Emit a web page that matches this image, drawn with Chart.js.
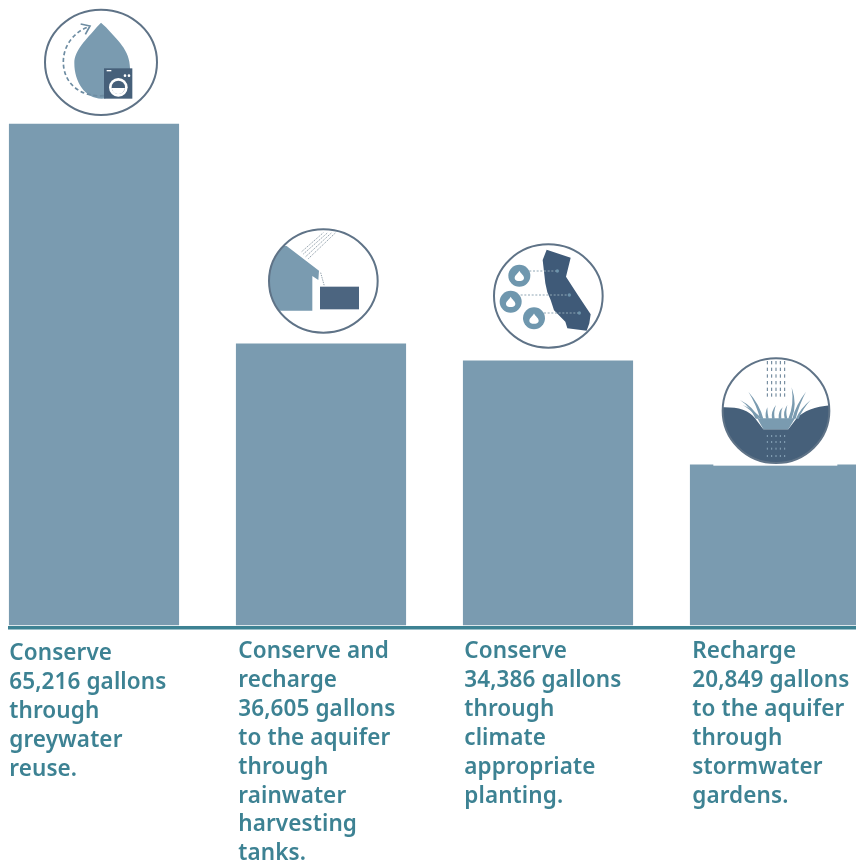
<!DOCTYPE html>
<html>
<head>
<meta charset="utf-8">
<title>Water savings</title>
<script src="https://cdn.jsdelivr.net/npm/chart.js@4"></script>
<style>
  html, body { margin: 0; padding: 0; background: #fff; }
  canvas { display: block; }
</style>
</head>
<body>
<canvas id="chart" width="856" height="863"></canvas>
<script>
// Gallons per strategy
const categories = ["Greywater reuse", "Rainwater harvesting tanks", "Climate appropriate planting", "Stormwater gardens"];
const gallons = [65216, 36605, 34386, 20849];
const captions = [
    ["Conserve", "65,216 gallons", "through", "greywater", "reuse."],
    ["Conserve and", "recharge", "36,605 gallons", "to the aquifer", "through", "rainwater", "harvesting", "tanks."],
    ["Conserve", "34,386 gallons", "through", "climate", "appropriate", "planting."],
    ["Recharge", "20,849 gallons", "to the aquifer", "through", "stormwater", "gardens."]
];

const BAR = "#7a9bb0";
const DARK = "#46607a";
const RING = "#5f7387";
const TEAL = "#3d8293";
const BAR_WIDTH = 169.5;

// Caption placement relative to each bar's left edge and the first baseline
const captionDx = [0, 2, 1, 2];
const captionTop = [660, 658, 658, 658];
const captionLeading = 28.9;

function ring(ctx, cx, cy, rx, ry) {
    ctx.beginPath();
    ctx.ellipse(cx, cy, rx, ry, 0, 0, Math.PI * 2);
    ctx.lineWidth = 6;
    ctx.strokeStyle = RING;
    ctx.stroke();
}

function clipEllipse(ctx, cx, cy, rx, ry) {
    ctx.beginPath();
    ctx.ellipse(cx, cy, rx, ry, 0, 0, Math.PI * 2);
    ctx.clip();
}

function poly(ctx, pts, fill) {
    ctx.beginPath();
    pts.forEach((p, i) => i ? ctx.lineTo(p[0], p[1]) : ctx.moveTo(p[0], p[1]));
    ctx.closePath();
    ctx.fillStyle = fill;
    ctx.fill();
}

function dashLine(ctx, x1, y1, x2, y2, color, width, dash) {
    ctx.beginPath();
    ctx.moveTo(x1, y1);
    ctx.lineTo(x2, y2);
    ctx.strokeStyle = color;
    ctx.lineWidth = width;
    ctx.setLineDash(dash);
    ctx.stroke();
    ctx.setLineDash([]);
}

// Small water drop, centred on x,y
function drop(ctx, x, y, s, fill) {
    ctx.beginPath();
    ctx.moveTo(x, y - s * 1.2);
    ctx.bezierCurveTo(x + s * 0.3, y - s * 0.6, x + s, y - s * 0.2, x + s, y + s * 0.3);
    ctx.bezierCurveTo(x + s, y + s * 0.9, x + s * 0.4, y + s, x, y + s);
    ctx.bezierCurveTo(x - s * 0.4, y + s, x - s, y + s * 0.9, x - s, y + s * 0.3);
    ctx.bezierCurveTo(x - s, y - s * 0.2, x - s * 0.3, y - s * 0.6, x, y - s * 1.2);
    ctx.fillStyle = fill;
    ctx.fill();
}

// The icons are laid out on a 3x grid, so every path stays in whole numbers
function washerIcon(ctx) {
    ring(ctx, 213, 187, 168, 158);

    ctx.beginPath();
    ctx.moveTo(213, 68);
    ctx.lineTo(228, 82);
    ctx.bezierCurveTo(260, 118, 300, 150, 300, 205);
    ctx.bezierCurveTo(300, 265, 255, 296, 215, 296);
    ctx.bezierCurveTo(165, 296, 133, 245, 133, 190);
    ctx.bezierCurveTo(133, 150, 170, 118, 200, 82);
    ctx.closePath();
    ctx.fillStyle = BAR;
    ctx.fill();

    // Dashed return arrow
    ctx.beginPath();
    ctx.moveTo(222, 287);
    ctx.bezierCurveTo(150, 292, 100, 250, 100, 185);
    ctx.bezierCurveTo(100, 135, 135, 95, 172, 82);
    ctx.strokeStyle = "#6d8ca2";
    ctx.lineWidth = 5;
    ctx.setLineDash([12, 8]);
    ctx.stroke();
    ctx.setLineDash([]);
    ctx.beginPath();
    ctx.moveTo(152, 72);
    ctx.lineTo(180, 78);
    ctx.lineTo(166, 103);
    ctx.stroke();

    // Washing machine
    ctx.fillStyle = DARK;
    ctx.fillRect(222, 205, 85, 91);
    ctx.fillStyle = "#fff";
    ctx.fillRect(230, 210, 14, 4);
    ctx.beginPath();
    ctx.arc(285, 227, 4, 0, Math.PI * 2);
    ctx.arc(297, 227, 4, 0, Math.PI * 2);
    ctx.fill();
    ctx.beginPath();
    ctx.arc(265, 262, 28, 0, Math.PI * 2);
    ctx.fill();
    ctx.fillStyle = DARK;
    ctx.beginPath();
    ctx.arc(265, 262, 20, 0, Math.PI * 2);
    ctx.fill();
    ctx.fillStyle = "#fff";
    ctx.beginPath();
    ctx.arc(265, 262, 20, 0.1, Math.PI - 0.1);
    ctx.fill();
}

function tankIcon(ctx) {
    ctx.save();
    clipEllipse(ctx, 205, 183, 163, 155);
    poly(ctx, [[95, 78], [192, 152], [190, 180], [172, 168], [172, 272], [30, 272], [30, 78]], BAR);
    ctx.restore();
    ctx.fillStyle = "#4c6580";
    ctx.fillRect(195, 200, 117, 68);
    ring(ctx, 205, 183, 163, 155);

    // Rain falling on the roof and the drip into the tank
    dashLine(ctx, 140, 95, 205, 38, "#7a8b99", 2.5, [4, 3]);
    dashLine(ctx, 145, 102, 218, 38, "#7a8b99", 2.5, [4, 3]);
    dashLine(ctx, 152, 110, 230, 38, "#7a8b99", 2.5, [4, 3]);
    dashLine(ctx, 160, 116, 242, 38, "#7a8b99", 2.5, [4, 3]);
    dashLine(ctx, 197, 158, 208, 198, "#7a8b99", 2.5, [4, 3]);
}

function stateIcon(ctx) {
    ring(ctx, 205, 183, 163, 155);
    poly(ctx, [[200, 44], [272, 68], [258, 125], [292, 178], [332, 238], [328, 265], [320, 287], [262, 280],
        [256, 260], [222, 226], [212, 195], [202, 172], [196, 145], [188, 75]], "#3f5a78");

    const wells = [[118, 122], [92, 200], [162, 250]];
    const targets = [[232, 108], [268, 180], [298, 234]];
    wells.forEach((w, i) => {
        dashLine(ctx, w[0] + 30, targets[i][1], targets[i][0], targets[i][1], "#8fa6b4", 3, [6, 5]);
        ctx.beginPath();
        ctx.arc(targets[i][0], targets[i][1], 5, 0, Math.PI * 2);
        ctx.fillStyle = "#6d93ab";
        ctx.fill();
        ctx.beginPath();
        ctx.arc(w[0], w[1], 33, 0, Math.PI * 2);
        ctx.fillStyle = "#6f97ae";
        ctx.fill();
        drop(ctx, w[0], w[1] + 2, 14, "#fff");
    });
}

// Tapered grass blade from a base point out to its tip
function blade(ctx, x, y, cx, cy, tx, ty, w) {
    ctx.beginPath();
    ctx.moveTo(x - w, y);
    ctx.quadraticCurveTo(cx - w, cy, tx, ty);
    ctx.quadraticCurveTo(cx + w, cy, x + w, y);
    ctx.closePath();
    ctx.fillStyle = BAR;
    ctx.fill();
}

function gardenIcon(ctx) {
    // White strip where the icon sits on the bar
    ctx.fillStyle = "#fff";
    ctx.fillRect(100, 340, 372, 7);

    ctx.save();
    clipEllipse(ctx, 288, 182, 160, 157);
    ctx.beginPath();
    ctx.moveTo(120, 172);
    ctx.bezierCurveTo(170, 170, 205, 178, 225, 205);
    ctx.lineTo(250, 238);
    ctx.lineTo(325, 238);
    ctx.lineTo(350, 205);
    ctx.bezierCurveTo(370, 182, 410, 168, 456, 165);
    ctx.lineTo(456, 345);
    ctx.lineTo(120, 345);
    ctx.closePath();
    ctx.fillStyle = DARK;
    ctx.fill();
    poly(ctx, [[232, 205], [345, 205], [325, 238], [250, 238]], BAR);
    ctx.restore();
    ring(ctx, 288, 182, 160, 157);

    // Grass
    [[232, 206, 215, 170, 180, 150, 5], [245, 206, 235, 165, 205, 125, 5], [262, 206, 258, 190, 262, 172, 4],
     [280, 206, 276, 185, 288, 165, 4], [300, 206, 298, 185, 308, 172, 4], [330, 206, 348, 165, 335, 112, 5],
     [342, 206, 352, 165, 378, 125, 5], [352, 206, 365, 175, 392, 150, 4], [240, 204, 210, 175, 188, 165, 4],
     [318, 206, 312, 185, 322, 165, 4]]
        .forEach(b => blade(ctx, b[0], b[1], b[2], b[3], b[4], b[5], b[6]));

    // Rain above the ground and infiltration below it
    [262, 275, 288, 301, 314].forEach(x => {
        [38, 58, 78, 98, 118, 135].forEach(y => {
            ctx.fillStyle = "#5e7a90";
            ctx.fillRect(x - 1.5, y - 5, 3, 10);
        });
        [258, 276, 296, 318].forEach(y => {
            ctx.fillStyle = "#8aa6ba";
            ctx.fillRect(x - 1.5, y - 3, 3, 6);
        });
    });
}

// [draw, left, top] for the illustrations above the bars
const icons = [
    [washerIcon, 30, 0],
    [tankIcon, 255, 220],
    [stateIcon, 480, 235],
    [gardenIcon, 680, 350]
];

const overlay = {
    id: "overlay",
    afterDatasetsDraw(chart) {
        const ctx = chart.ctx;
        const xScale = chart.scales.x;
        const base = chart.scales.y.getPixelForValue(0);

        // Baseline across the page
        ctx.save();
        ctx.fillStyle = TEAL;
        ctx.fillRect(8, base + 1, 848, 3.5);

        // Captions under each bar
        ctx.font = '600 22.5px "Noto Sans"';
        ctx.letterSpacing = "0.1px";
        ctx.fillStyle = TEAL;
        ctx.textAlign = "left";
        ctx.textBaseline = "alphabetic";
        captions.forEach((lines, i) => {
            const left = xScale.getPixelForValue(i) - BAR_WIDTH / 2 + captionDx[i];
            lines.forEach((line, n) => ctx.fillText(line, left, captionTop[i] + n * captionLeading));
        });
        ctx.restore();

        icons.forEach(ic => {
            ctx.save();
            ctx.translate(ic[1], ic[2]);
            ctx.scale(1 / 3, 1 / 3);
            ic[0](ctx);
            ctx.restore();
        });
    }
};

new Chart(document.getElementById("chart"), {
    type: "bar",
    data: {
        labels: categories,
        datasets: [{
            data: gallons,
            backgroundColor: BAR,
            borderWidth: 0,
            barThickness: BAR_WIDTH,
            clip: false
        }]
    },
    options: {
        responsive: false,
        animation: false,
        layout: { padding: { left: 94, right: 81, top: 124, bottom: 238 } },
        plugins: { legend: { display: false }, tooltip: { enabled: false } },
        scales: {
            x: { display: false, offset: false, grid: { display: false } },
            y: { display: false, min: 0, max: gallons[0], grid: { display: false } }
        }
    },
    plugins: [overlay]
});
</script>
</body>
</html>
